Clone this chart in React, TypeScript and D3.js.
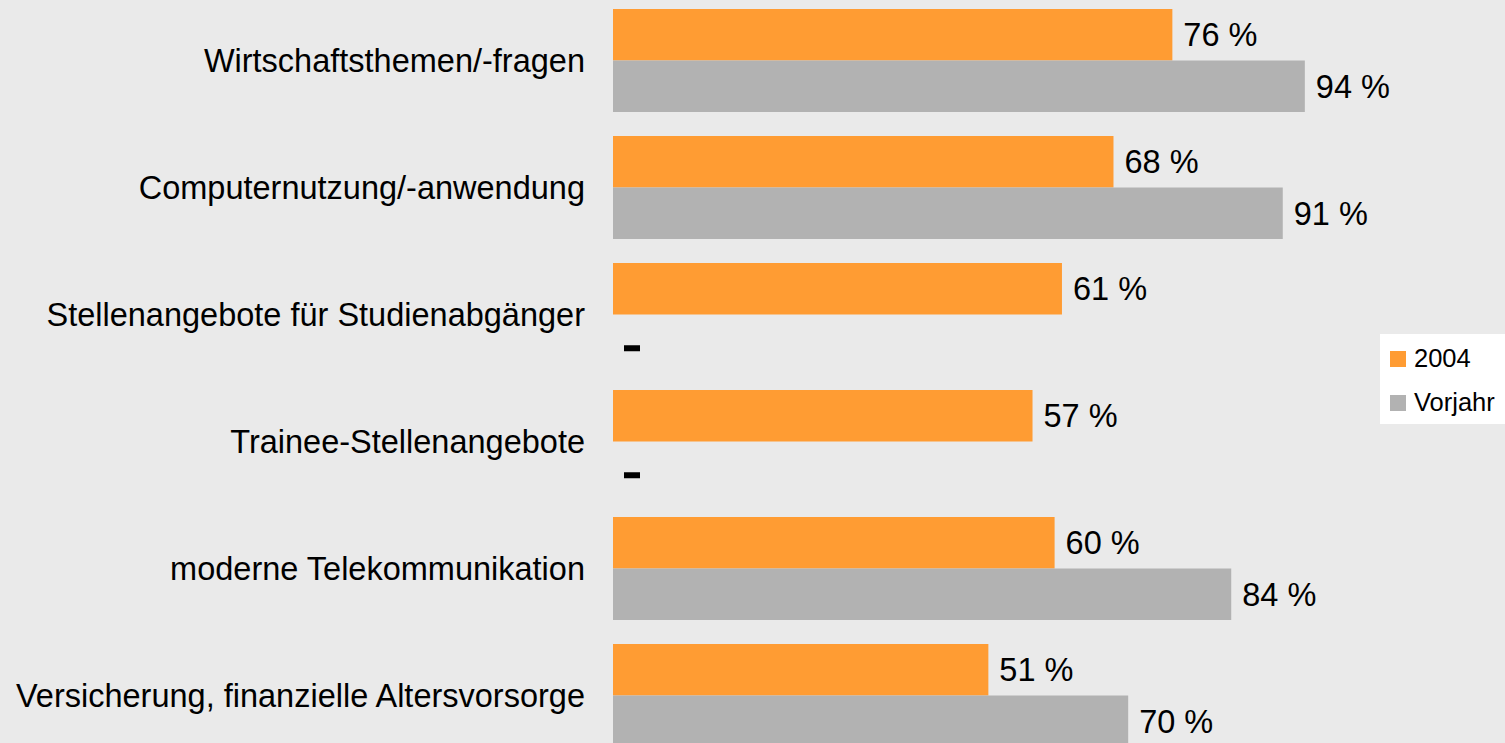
import React from "react";
import * as d3 from "d3";

const categories = [
  "Wirtschaftsthemen/-fragen",
  "Computernutzung/-anwendung",
  "Stellenangebote für Studienabgänger",
  "Trainee-Stellenangebote",
  "moderne Telekommunikation",
  "Versicherung, finanzielle Altersvorsorge",
];
const seriesNames = ["2004", "Vorjahr"];
const values2004: (number | null)[] = [76, 68, 61, 57, 60, 51];
const valuesVorjahr: (number | null)[] = [94, 91, null, null, 84, 70];
const seriesColors = ["#ff9c33", "#b2b2b2"];

const W = 1505;
const H = 743;
const FONT = "'Liberation Sans', Arial, Helvetica, sans-serif";

export default function App() {
  const y = d3
    .scaleBand<string>()
    .domain(categories)
    .range([-3, 759])
    .paddingInner(0.189)
    .paddingOuter(0.0945);
  const inner = d3
    .scaleBand<string>()
    .domain(seriesNames)
    .range([0, y.bandwidth()]);
  const x = d3.scaleLinear().domain([0, 100]).range([613, 1349]);
  const data = [values2004, valuesVorjahr];

  return (
    <svg
      width={W}
      height={H}
      style={{ position: "absolute", left: 0, top: 0, display: "block" }}
      fontFamily={FONT}
    >
      <rect x={0} y={0} width={W} height={H} fill="#eaeaea" />
      {categories.map((c, i) => {
        const y0 = y(c)!;
        return (
          <g key={c}>
            <text
              x={585}
              y={y0 + y.bandwidth() / 2 + 11.6}
              textAnchor="end"
              fontSize={32.5}
              fill="#000"
            >
              {c}
            </text>
            {seriesNames.map((s, si) => {
              const v = data[si][i];
              const by = y0 + inner(s)!;
              const bh = inner.bandwidth();
              if (v == null) {
                return (
                  <rect
                    key={s}
                    x={x(0) + 11}
                    y={by + bh / 2 + 5}
                    width={16}
                    height={6}
                    fill="#000"
                  />
                );
              }
              return (
                <g key={s}>
                  <rect
                    x={x(0)}
                    y={by}
                    width={x(v) - x(0)}
                    height={bh}
                    fill={seriesColors[si]}
                  />
                  <text
                    x={x(v) + 11}
                    y={by + bh / 2 + 11.6}
                    fontSize={32.5}
                    fill="#000"
                  >
                    {`${v} %`}
                  </text>
                </g>
              );
            })}
          </g>
        );
      })}
      <g>
        <rect x={1380} y={334} width={130} height={90} fill="#ffffff" />
        {seriesNames.map((s, si) => (
          <g key={s} transform={`translate(1390, ${351 + si * 44})`}>
            <rect x={0} y={0} width={16} height={16} fill={seriesColors[si]} />
            <text x={24} y={16} fontSize={25.5} fill="#000">
              {s}
            </text>
          </g>
        ))}
      </g>
    </svg>
  );
}
